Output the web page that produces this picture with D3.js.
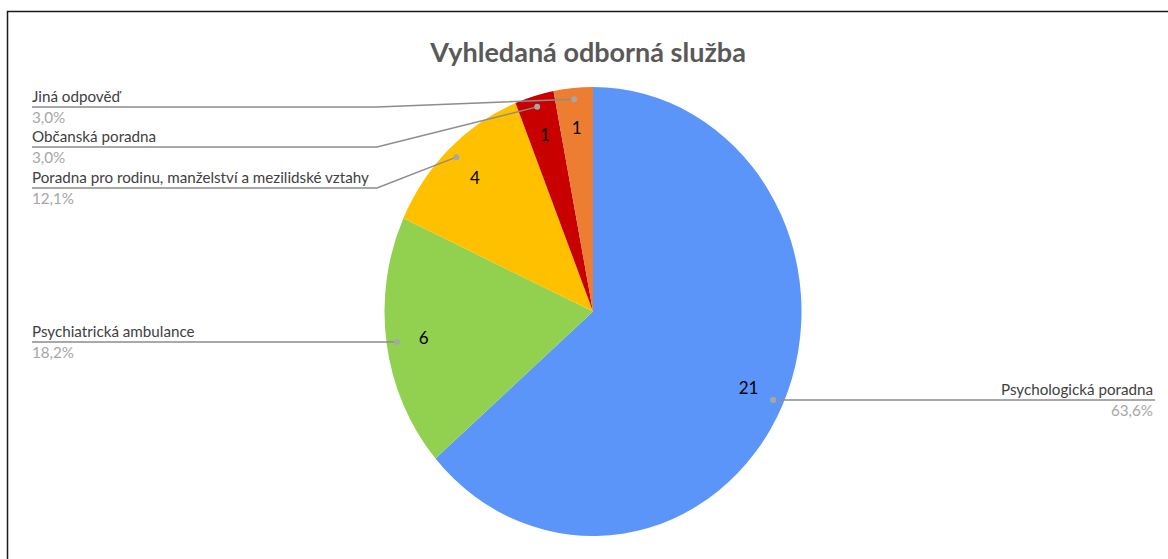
<!DOCTYPE html>
<html>
<head>
<meta charset="utf-8">
<script src="https://cdn.jsdelivr.net/npm/d3@7"></script>
<style>
  body { margin: 0; background: #fff; }
  svg { display: block; font-family: Lato, "Open Sans", sans-serif; }
</style>
</head>
<body>
<svg id="chart" width="1168" height="559"></svg>
<script>
const categories = [
  "Psychologická poradna",
  "Psychiatrická ambulance",
  "Poradna pro rodinu, manželství a mezilidské vztahy",
  "Občanská poradna",
  "Jiná odpověď"
];
const counts = [21, 6, 4, 1, 1];
const percentLabels = ["63,6%", "18,2%", "12,1%", "3,0%", "3,0%"];
const colors = ["#5b95f9", "#92d050", "#ffc000", "#c80000", "#ed7d31"];
const chartTitle = "Vyhledaná odborná služba";

// label boxes: where the category name sits, and where its underline stops
const labelLayout = [
  { x: 1153, y: 395, anchor: "end", lineFrom: 1155 },
  { x: 32, y: 337, anchor: "start", lineTo: null },
  { x: 32, y: 183, anchor: "start", lineTo: 377 },
  { x: 32, y: 142, anchor: "start", lineTo: 377 },
  { x: 32, y: 102, anchor: "start", lineTo: 377 }
];

const svg = d3.select("#chart");
const cx = 593, cy = 311.5;
const radius = 208.5;
const yStretch = 224.5 / 208.5;

// frame
svg.append("rect")
  .attr("x", 7.5).attr("y", 11.5)
  .attr("width", 1200).attr("height", 600)
  .attr("fill", "none")
  .attr("stroke", "#1a1a1a")
  .attr("stroke-width", 1.5);

svg.append("text")
  .attr("x", cx - 5)
  .attr("y", 62)
  .attr("text-anchor", "middle")
  .attr("font-size", 27)
  .attr("font-weight", "bold")
  .attr("fill", "#595959")
  .text(chartTitle);

const data = categories.map((c, i) => ({ name: c, value: counts[i], pct: percentLabels[i], color: colors[i], layout: labelLayout[i] }));

const pie = d3.pie().sort(null).value(d => d.value);
const arcs = pie(data);
const arc = d3.arc().innerRadius(0).outerRadius(radius);
const dotArc = d3.arc().innerRadius(radius * 0.95).outerRadius(radius * 0.95);
const valueArc = d3.arc().innerRadius(radius * 0.82).outerRadius(radius * 0.82);

// map pie-space point to screen (pie is drawn slightly taller than wide)
const toScreen = p => [cx + p[0], cy + p[1] * yStretch];

const pieGroup = svg.append("g")
  .attr("transform", `translate(${cx},${cy}) scale(1,${yStretch})`);

pieGroup.selectAll("path.slice")
  .data(arcs)
  .enter()
  .append("path")
  .attr("class", "slice")
  .attr("d", arc)
  .attr("fill", d => d.data.color);

// value labels inside
svg.selectAll("text.value")
  .data(arcs)
  .enter()
  .append("text")
  .attr("class", "value")
  .attr("x", d => toScreen(valueArc.centroid(d))[0])
  .attr("y", d => toScreen(valueArc.centroid(d))[1])
  .attr("dy", "0.35em")
  .attr("text-anchor", "middle")
  .attr("font-size", 17)
  .attr("fill", "#000")
  .text(d => d.data.value);

// leader lines and outside labels
const leaderGroup = svg.append("g");
arcs.forEach(d => {
  const dot = toScreen(dotArc.centroid(d));
  const L = d.data.layout;
  const lineY = L.y + 5;
  let pts, dotPos = dot;
  if (L.anchor === "end") {
    pts = [dot, [L.lineFrom, lineY]];
  } else if (L.lineTo === null) {
    dotPos = [dot[0], lineY];
    pts = [[L.x, lineY], dotPos];
  } else {
    pts = [[L.x, lineY], [L.lineTo, lineY], dot];
  }
  leaderGroup.append("path")
    .attr("d", d3.line()(pts))
    .attr("fill", "none")
    .attr("stroke", "#8c8c8c")
    .attr("stroke-width", 1.5);
  leaderGroup.append("circle")
    .attr("cx", dotPos[0])
    .attr("cy", dotPos[1])
    .attr("r", 3)
    .attr("fill", "#a6a6a6");

  svg.append("text")
    .attr("x", L.x)
    .attr("y", L.y)
    .attr("text-anchor", L.anchor)
    .attr("font-size", 15.2)
    .attr("fill", "#404040")
    .text(d.data.name);
  svg.append("text")
    .attr("x", L.x)
    .attr("y", L.y + 21)
    .attr("text-anchor", L.anchor)
    .attr("font-size", 15.2)
    .attr("fill", "#a6a6a6")
    .text(d.data.pct);
});
</script>
</body>
</html>
